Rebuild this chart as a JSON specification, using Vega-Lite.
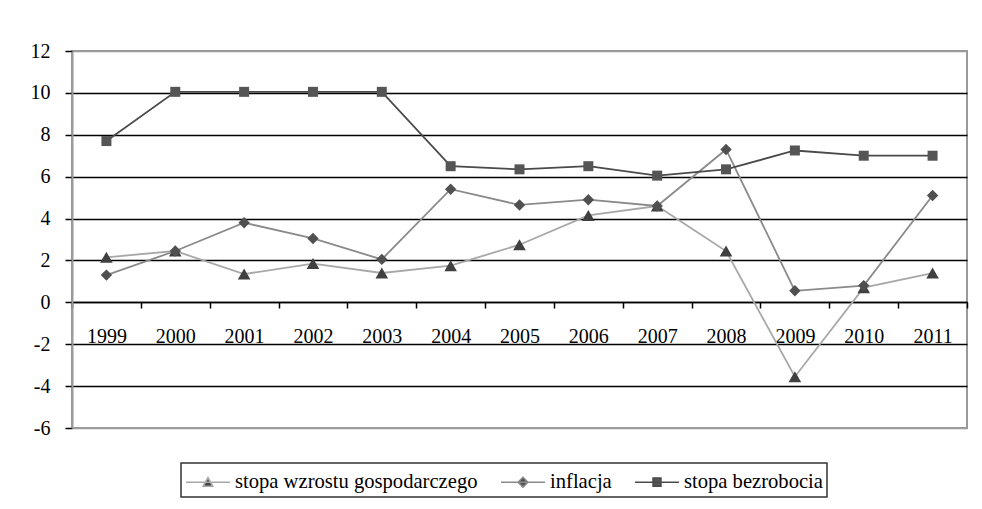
{
  "$schema": "https://vega.github.io/schema/vega-lite/v6.json",
  "autosize": {"type": "none"},
  "width": 895,
  "height": 377,
  "padding": {"left": 72, "top": 51, "right": 15, "bottom": 81},
  "background": "white",
  "config": {
    "font": "Liberation Serif",
    "view": {"stroke": "#9a9a9a", "strokeWidth": 2},
    "legend": {
      "orient": "none",
      "legendX": 109,
      "legendY": 412,
      "direction": "horizontal",
      "title": null,
      "strokeColor": "#333333",
      "strokeWidth": 1.5,
      "padding": 4,
      "labelFont": "Liberation Serif",
      "labelFontSize": 20.6,
      "labelColor": "black",
      "labelLimit": 500,
      "labelOffset": 20,
      "columnPadding": 19,
      "symbolSize": 784,
      "symbolStrokeWidth": 1.6
    }
  },
  "data": {
    "values": [
      {"year": "1999", "series": "stopa wzrostu gospodarczego", "value": 2.15},
      {"year": "2000", "series": "stopa wzrostu gospodarczego", "value": 2.45},
      {"year": "2001", "series": "stopa wzrostu gospodarczego", "value": 1.35},
      {"year": "2002", "series": "stopa wzrostu gospodarczego", "value": 1.85},
      {"year": "2003", "series": "stopa wzrostu gospodarczego", "value": 1.4},
      {"year": "2004", "series": "stopa wzrostu gospodarczego", "value": 1.75},
      {"year": "2005", "series": "stopa wzrostu gospodarczego", "value": 2.75},
      {"year": "2006", "series": "stopa wzrostu gospodarczego", "value": 4.15},
      {"year": "2007", "series": "stopa wzrostu gospodarczego", "value": 4.6},
      {"year": "2008", "series": "stopa wzrostu gospodarczego", "value": 2.45},
      {"year": "2009", "series": "stopa wzrostu gospodarczego", "value": -3.55},
      {"year": "2010", "series": "stopa wzrostu gospodarczego", "value": 0.7},
      {"year": "2011", "series": "stopa wzrostu gospodarczego", "value": 1.4},
      {"year": "1999", "series": "inflacja", "value": 1.3},
      {"year": "2000", "series": "inflacja", "value": 2.45},
      {"year": "2001", "series": "inflacja", "value": 3.8},
      {"year": "2002", "series": "inflacja", "value": 3.05},
      {"year": "2003", "series": "inflacja", "value": 2.05},
      {"year": "2004", "series": "inflacja", "value": 5.4},
      {"year": "2005", "series": "inflacja", "value": 4.65},
      {"year": "2006", "series": "inflacja", "value": 4.9},
      {"year": "2007", "series": "inflacja", "value": 4.6},
      {"year": "2008", "series": "inflacja", "value": 7.3},
      {"year": "2009", "series": "inflacja", "value": 0.55},
      {"year": "2010", "series": "inflacja", "value": 0.8},
      {"year": "2011", "series": "inflacja", "value": 5.1},
      {"year": "1999", "series": "stopa bezrobocia", "value": 7.7},
      {"year": "2000", "series": "stopa bezrobocia", "value": 10.05},
      {"year": "2001", "series": "stopa bezrobocia", "value": 10.05},
      {"year": "2002", "series": "stopa bezrobocia", "value": 10.05},
      {"year": "2003", "series": "stopa bezrobocia", "value": 10.05},
      {"year": "2004", "series": "stopa bezrobocia", "value": 6.5},
      {"year": "2005", "series": "stopa bezrobocia", "value": 6.35},
      {"year": "2006", "series": "stopa bezrobocia", "value": 6.5},
      {"year": "2007", "series": "stopa bezrobocia", "value": 6.05},
      {"year": "2008", "series": "stopa bezrobocia", "value": 6.35},
      {"year": "2009", "series": "stopa bezrobocia", "value": 7.25},
      {"year": "2010", "series": "stopa bezrobocia", "value": 7.0},
      {"year": "2011", "series": "stopa bezrobocia", "value": 7.0}
    ]
  },
  "encoding": {
    "x": {
      "field": "year",
      "type": "ordinal",
      "bandPosition": 0.5,
      "scale": {"type": "band", "paddingInner": 0, "paddingOuter": 0},
      "axis": {
        "title": null,
        "offset": -126,
        "domainColor": "black",
        "domainWidth": 1.5,
        "tickBand": "extent",
        "tickColor": "black",
        "tickSize": 6,
        "tickWidth": 1.5,
        "labelAngle": 0,
        "labelFont": "Liberation Serif",
        "labelFontSize": 20,
        "labelColor": "black",
        "labelPadding": 18,
        "grid": false
      }
    },
    "y": {
      "field": "value",
      "type": "quantitative",
      "scale": {"domain": [-6, 12], "nice": false, "zero": false},
      "axis": {
        "title": null,
        "values": [-6, -4, -2, 0, 2, 4, 6, 8, 10, 12],
        "labelExpr": "toString(datum.value)",
        "domainColor": "#9a9a9a",
        "domainWidth": 2,
        "tickColor": "black",
        "tickSize": 7,
        "tickWidth": 1.5,
        "labelFont": "Liberation Serif",
        "labelFontSize": 20,
        "labelColor": "black",
        "labelPadding": 15,
        "grid": true,
        "gridColor": {"condition": {"test": "datum.value == 12 || datum.value == -6", "value": "#9a9a9a"}, "value": "black"},
        "gridWidth": 1.5
      }
    }
  },
  "layer": [
    {
      "mark": {"type": "line", "strokeWidth": 1.8},
      "encoding": {
        "stroke": {
          "field": "series",
          "type": "nominal",
          "scale": {"domain": ["stopa wzrostu gospodarczego", "inflacja", "stopa bezrobocia"], "range": ["#a8a8a8", "#8a8a8a", "#4a4a4a"]}
        }
      }
    },
    {
      "transform": [{"filter": "datum.series == 'stopa wzrostu gospodarczego'"}],
      "mark": {"type": "point", "shape": "triangle-up", "filled": true, "opacity": 1, "size": 160, "color": "#404040"}
    },
    {
      "transform": [{"filter": "datum.series == 'inflacja'"}],
      "mark": {"type": "point", "shape": "diamond", "filled": true, "opacity": 1, "size": 130, "color": "#505050"}
    },
    {
      "transform": [{"filter": "datum.series == 'stopa bezrobocia'"}],
      "mark": {"type": "point", "shape": "square", "filled": true, "opacity": 1, "size": 100, "color": "#555555"}
    },
    {
      "transform": [{"filter": "false"}],
      "mark": {"type": "point", "filled": true, "opacity": 1},
      "encoding": {
        "shape": {
          "field": "series",
          "type": "nominal",
          "scale": {
            "domain": ["stopa wzrostu gospodarczego", "inflacja", "stopa bezrobocia"],
            "range": [
              "M-1,0H2.14M0.23,0.29L0.57,-0.32L0.91,0.29Z",
              "M-1,0H2.14M0.57,-0.35L0.92,0L0.57,0.35L0.22,0Z",
              "M-1,0H2.14M0.29,-0.29H0.85V0.29H0.29Z"
            ]
          }
        },
        "fill": {
          "field": "series",
          "type": "nominal",
          "scale": {"domain": ["stopa wzrostu gospodarczego", "inflacja", "stopa bezrobocia"], "range": ["#404040", "#505050", "#555555"]}
        },
        "stroke": {"field": "series", "type": "nominal"}
      }
    }
  ]
}
